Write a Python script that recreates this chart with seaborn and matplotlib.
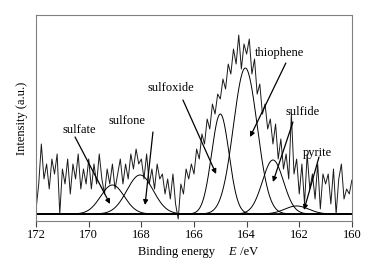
import numpy as np
import pandas as pd
import matplotlib
matplotlib.use("Agg")
import matplotlib.pyplot as plt
import seaborn as sns

sns.set_theme(style="white")
plt.rcParams['font.family'] = ['Liberation Serif', 'DejaVu Serif']
plt.rcParams['text.color'] = 'black'
plt.rcParams['xtick.color'] = 'black'
plt.rcParams['axes.labelcolor'] = 'black'

# raw S 2p spectrum, 0.1 eV steps from 172.0 down to 160.0
binding_energy = np.round(np.arange(172.0, 159.95, -0.1), 2)
intensity = [5, 30, 70, 35, 50, 25, 55, 40, 60, 0,
             45, 30, 55, 20, 50, 35, 60, 25, 45, 30,
             55, 25, 50, 30, 60, 35, 20, 45, 30, 50,
             25, 40, 55, 30, 50, 35, 60, 45, 65, 50,
             55, 35, 60, 30, 45, 25, 50, 35, 40, 20,
             35, 15, 40, 10, -5, 30, 20, 45, 35, 50,
             40, 65, 55, 80, 70, 95, 85, 110, 100, 120,
             115, 135, 125, 150, 140, 165, 150, 179, 145, 170,
             160, 175, 140, 155, 120, 130, 100, 110, 85, 95,
             70, 90, 55, 75, 45, 60, 35, 100, 40, 55,
             20, 50, 10, 60, 25, 40, 15, 50, 5, 40,
             30, 40, 10, 45, 0, 35, 50, 15, 25, 20, 34]

# fitted components: centre (eV), height, sigma (eV)
peak_names = ['sulfate', 'sulfone', 'sulfoxide', 'thiophene', 'sulfide', 'pyrite']
peak_centres = [169.1, 168.05, 165.0, 164.05, 163.0, 162.1]
peak_heights = [29, 39, 100, 146, 54, 8]
peak_sigmas = [0.45, 0.5, 0.33, 0.45, 0.4, 0.45]

# label text position and arrow from/to (eV, intensity)
label_xy = [(170.37, 84), (168.54, 93), (166.87, 126), (162.77, 161), (161.86, 102), (161.33, 61)]
arrow_from = [(170.52, 77), (167.56, 82), (166.42, 114), (162.51, 151), (162.24, 92), (161.25, 57)]
arrow_to = [(169.19, 10), (167.86, 9), (165.16, 40), (163.87, 77), (163.0, 32), (161.82, 4)]

spec = pd.DataFrame({'E': binding_energy, 'I': intensity})
grid = np.round(np.arange(172.0, 159.99, -0.01), 3)

fig = plt.figure(figsize=(3.72, 2.64), dpi=100)
ax = fig.add_axes([0.097, 0.163, 0.849, 0.78])

sns.lineplot(data=spec, x='E', y='I', ax=ax, color='#1a1a1a', lw=0.7)
for c, h, s in zip(peak_centres, peak_heights, peak_sigmas):
    ax.plot(grid, h * np.exp(-(grid - c) ** 2 / (2 * s ** 2)), color='black', lw=0.7)
ax.axhline(0, color='black', lw=0.7)

for name, lxy, a0, a1 in zip(peak_names, label_xy, arrow_from, arrow_to):
    ax.text(lxy[0], lxy[1], name, fontsize=9, ha='center', va='center')
    ax.annotate('', xy=a1, xytext=a0,
                arrowprops=dict(arrowstyle='-|>', color='black', lw=0.9,
                                mutation_scale=7, shrinkA=0, shrinkB=0))

ax.set_xlim(172, 160)
ax.set_ylim(-7, 199)
ax.set_xticks([172, 170, 168, 166, 164, 162, 160])
ax.set_yticks([])
ax.tick_params(axis='x', direction='out', length=4, width=0.8, color='#444444',
               labelsize=9, pad=2, bottom=True)
for sp in ax.spines.values():
    sp.set_color('#808080')
    sp.set_linewidth(0.8)

ax.set_xlabel('')
ax.set_ylabel('Intensity (a.u.)', fontsize=9, labelpad=6)
fig.text(0.475, 0.035, 'Binding energy', fontsize=9, ha='center')
fig.text(0.613, 0.035, 'E', fontsize=9, ha='left', fontstyle='italic')
fig.text(0.637, 0.035, ' /eV', fontsize=9, ha='left')

fig.savefig('out.png', dpi=100)
